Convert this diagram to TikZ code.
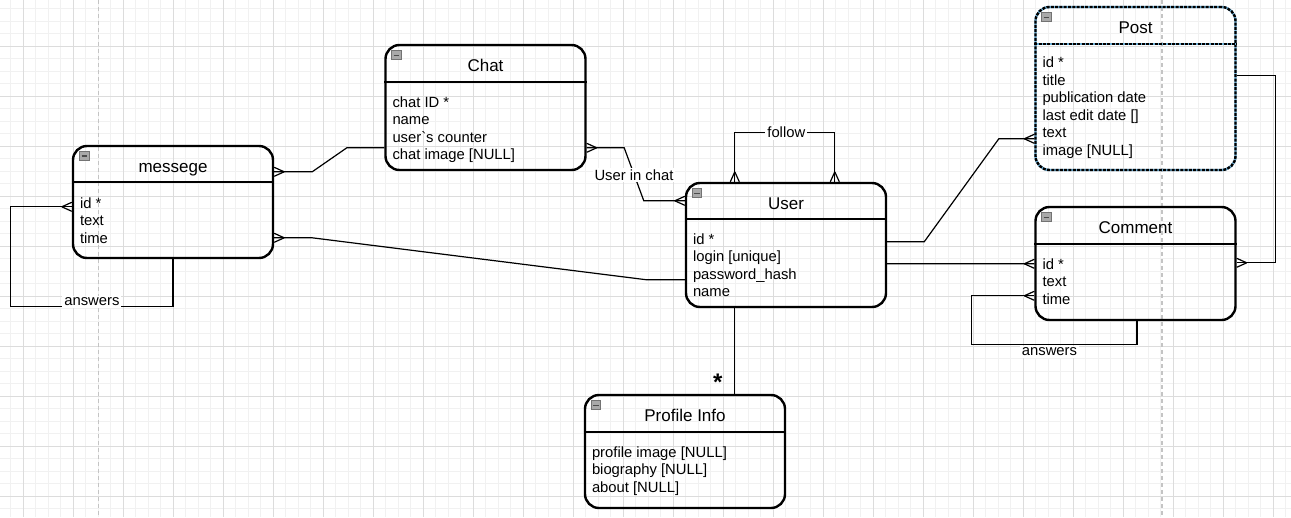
\documentclass[tikz,border=0pt]{standalone}
\usepackage{fontspec}
\setmainfont{Liberation Sans}
\usepackage{tikz}
\usetikzlibrary{calc, decorations.markings}
\definecolor{gridMinor}{HTML}{F1F1F1}
\definecolor{gridMajor}{HTML}{DCDCDC}
\definecolor{pageGray}{HTML}{C4C4C4}
\definecolor{selBlue}{HTML}{6AAED6}
\definecolor{iconGray}{HTML}{A9A9A9}
\newcommand{\ertitle}{\fontsize{17}{20}\selectfont}
\newcommand{\erbody}{\fontsize{14.8}{17.5}\selectfont}

\begin{document}
\begin{tikzpicture}[x=10pt, y=-10pt,
  entity/.style={draw, line width=2.4pt, rounded corners=14pt, minimum width=200pt,
                 inner sep=0pt},
  picked/.style={draw=selBlue, postaction={draw=black, dash pattern=on 3pt off 1.3pt}},
  hline/.style={line width=2.2pt},
  etitle/.style={anchor=base, inner sep=0pt, font=\ertitle},
  fields/.style={anchor=north west, align=left, inner sep=0pt, font=\erbody},
  boxicon/.style={draw=black!55, fill=iconGray, line width=0.8pt, inner sep=0pt,
                  minimum width=9.5pt, minimum height=9pt,
                  path picture={\draw[line width=1.4pt, black!70]
                    ([xshift=2pt]path picture bounding box.west) --
                    ([xshift=-2pt]path picture bounding box.east);}},
  rel/.style={line width=1.2pt},
  lbl/.style={fill=white, inner sep=2pt, anchor=base, font=\erbody},
  many start/.style={postaction={decorate, decoration={markings,
      mark=at position 0 with {\draw[line width=1.2pt] (10pt,0pt) -- (0pt,4.5pt)
                                 (10pt,0pt) -- (0pt,-4.5pt);}}}},
  many end/.style={postaction={decorate, decoration={markings,
      mark=at position 1 with {\draw[line width=1.2pt] (-10pt,0pt) -- (0pt,4.5pt)
                                 (-10pt,0pt) -- (0pt,-4.5pt);}}}},
]
  % canvas and grid
  \fill[white] (0,0) rectangle (129.1,51.7);
  \useasboundingbox (0,0) rectangle (129.1,51.7);
  \foreach \gx in {1.08,2.33,...,129.1}
    \draw[gridMinor, line width=0.9pt] (\gx,0) -- (\gx,51.7);
  \foreach \gy in {0.85,2.1,...,51.7}
    \draw[gridMinor, line width=0.9pt] (0,\gy) -- (129.1,\gy);
  \foreach \gx in {2.33,7.33,...,129.1}
    \draw[gridMajor, line width=0.9pt] (\gx,0) -- (\gx,51.7);
  \foreach \gy in {4.6,9.6,...,51.7}
    \draw[gridMajor, line width=0.9pt] (0,\gy) -- (129.1,\gy);
  \draw[pageGray, line width=1.3pt, dash pattern=on 4pt off 3pt] (9.87,0) -- (9.87,51.7);
  \draw[pageGray, line width=1.3pt, dash pattern=on 4pt off 3pt] (116.2,0) -- (116.2,51.7);

  % messege
  \node[entity, minimum height=112pt] (msg) at (17.3,20.2) {};
  \node[boxicon] (msgI) at ($(msg.north west)+(1.25,1.1)$) {};
  \node[etitle] (msgT) at ($(msg.north)+(0,2.8)$) {messege};
  \draw[hline] ($(msg.north west)+(0,3.75)$) -- ($(msg.north east)+(0,3.75)$);
  \node[fields] (msgF) at ($(msg.north west)+(0.8,5.1)$) {\strut id *\\text\\time};

  % Chat
  \node[entity, minimum height=125pt] (chat) at (48.55,10.75) {};
  \node[boxicon] (chatI) at ($(chat.north west)+(1.2,1.15)$) {};
  \node[etitle] (chatT) at ($(chat.north)+(0,2.8)$) {Chat};
  \draw[hline] ($(chat.north west)+(0,3.8)$) -- ($(chat.north east)+(0,3.8)$);
  \node[fields] (chatF) at ($(chat.north west)+(0.8,5.1)$)
    {\strut chat ID *\\name\\user\textasciigrave s counter\\chat image [NULL]};

  % User
  \node[entity, minimum height=124pt] (user) at (78.6,24.5) {};
  \node[boxicon] (userI) at ($(user.north west)+(1.2,1.15)$) {};
  \node[etitle] (userT) at ($(user.north)+(0,2.75)$) {User};
  \draw[hline] ($(user.north west)+(0,3.7)$) -- ($(user.north east)+(0,3.7)$);
  \node[fields] (userF) at ($(user.north west)+(0.8,5.0)$)
    {\strut id *\\login [unique]\\password\_hash\\name};

  % Post
  \node[entity, picked, minimum height=163pt] (post) at (113.55,8.85) {};
  \node[boxicon] (postI) at ($(post.north west)+(1.2,1.15)$) {};
  \node[etitle] (postT) at ($(post.north)+(0,2.8)$) {Post};
  \draw[hline, selBlue, postaction={draw=black, dash pattern=on 3pt off 1.3pt}]
    ($(post.north west)+(0,3.8)$) -- ($(post.north east)+(0,3.8)$);
  \node[fields] (postF) at ($(post.north west)+(0.8,4.95)$)
    {\strut id *\\title\\publication date\\last edit date []\\text\\image [NULL]};

  % Comment
  \node[entity, minimum height=113pt] (comment) at (113.55,26.35) {};
  \node[boxicon] (commentI) at ($(comment.north west)+(1.2,1.15)$) {};
  \node[etitle] (commentT) at ($(comment.north)+(0,2.8)$) {Comment};
  \draw[hline] ($(comment.north west)+(0,3.8)$) -- ($(comment.north east)+(0,3.8)$);
  \node[fields] (commentF) at ($(comment.north west)+(0.8,5.1)$) {\strut id *\\text\\time};

  % Profile Info
  \node[entity, minimum height=113pt] (profile) at (68.5,45.15) {};
  \node[boxicon] (profileI) at ($(profile.north west)+(1.2,1.15)$) {};
  \node[etitle] (profileT) at ($(profile.north)+(0,2.8)$) {Profile Info};
  \draw[hline] ($(profile.north west)+(0,3.8)$) -- ($(profile.north east)+(0,3.8)$);
  \node[fields] (profileF) at ($(profile.north west)+(0.8,5.1)$)
    {\strut profile image [NULL]\\biography [NULL]\\about [NULL]};

  % relations
  \draw[rel, many start] ($(msg.north east)+(0,2.7)$) -- ++(3.8,0)
    -- ($(chat.north west)+(-3.75,10.4)$) -- ($(chat.north west)+(0,10.4)$);
  \draw[rel, many start] ($(msg.north east)+(0,9.3)$) -- ++(3.8,0)
    -- ($(user.north west)+(-3.8,9.8)$) -- ($(user.north west)+(0,9.8)$);
  \draw[rel, many start, many end] ($(chat.north east)+(0,10.4)$) -- ++(3.75,0)
    -- node[lbl, yshift=-6pt] {User in chat} ($(user.north west)+(-4.1,1.9)$)
    -- ($(user.north west)+(0,1.9)$);
  \draw[rel, many start, many end] ($(user.north west)+(5,0)$) -- ++(0,-4.9)
    -| node[lbl, pos=0.25, xshift=1.5pt, yshift=-4.7pt] {follow} ($(user.north west)+(15,0)$);
  \draw[rel, many end] ($(user.north east)+(0,6.0)$) -- ++(3.7,0)
    -- ($(post.north west)+(-3.55,13.3)$) -- ($(post.north west)+(0,13.3)$);
  \draw[rel, many end] ($(user.north east)+(0,8.2)$) -- ($(comment.north west)+(0,5.8)$);
  \draw[rel, many end] ($(post.north east)+(0,7.0)$) -- ++(3.85,0)
    |- ($(comment.north east)+(0,5.7)$);
  \draw[rel, many start] ($(comment.north west)+(0,9.0)$) -- ++(-6.25,0) -- ++(0,4.9)
    -| node[lbl, pos=0.235, yshift=-11pt] {answers} ($(comment.south)+(0.15,0)$);
  \draw[rel, many start] ($(msg.north west)+(0,6.2)$) -- ++(-6.1,0) -- ++(0,10)
    -| node[lbl, pos=0.25, yshift=1pt] {answers} (msg.south);
  \draw[rel] ($(user.south west)+(5,0)$) -- node[pos=1, anchor=base, xshift=-17pt,
    yshift=3.3pt, font=\fontsize{24}{24}\selectfont\bfseries] {*}
    ($(profile.north west)+(15.1,0)$);
\end{tikzpicture}
\end{document}
